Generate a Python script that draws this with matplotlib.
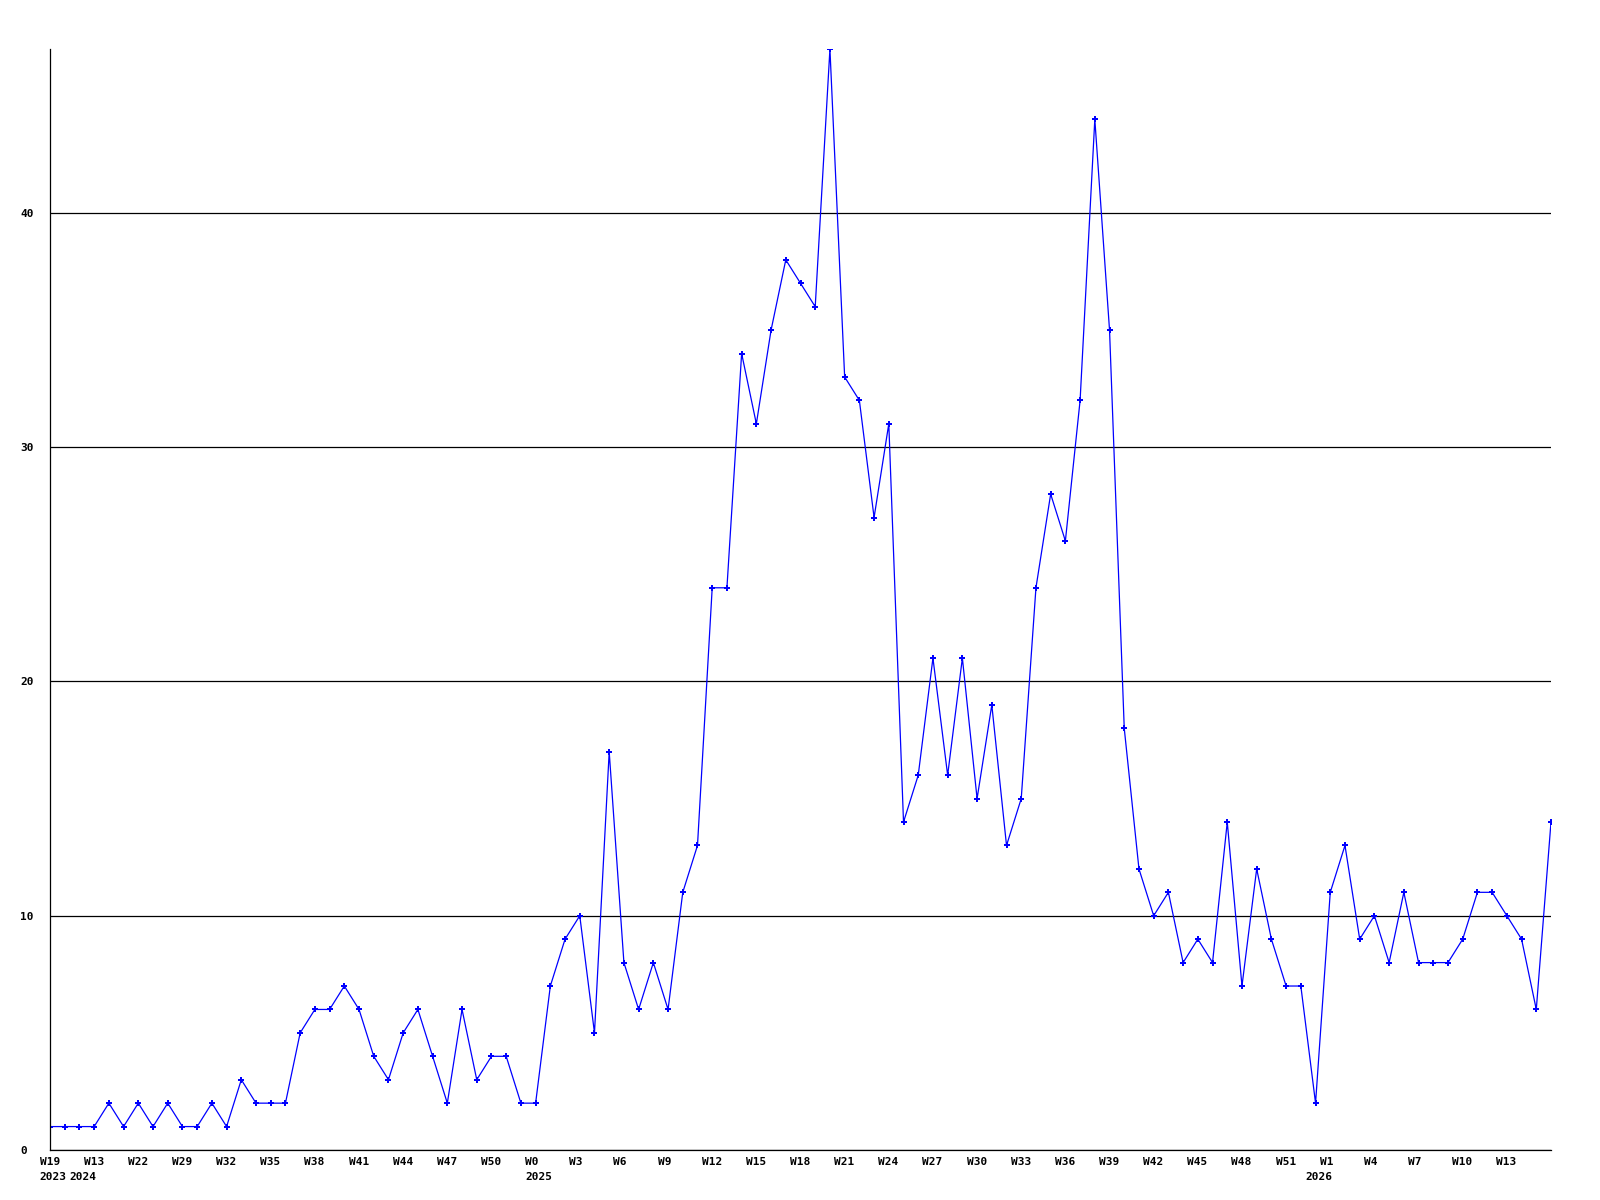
import matplotlib
matplotlib.use("Agg")
import matplotlib.pyplot as plt
from matplotlib.transforms import ScaledTranslation

# weekly values, one per point
values = [1, 1, 1, 1, 2, 1, 2, 1, 2, 1, 1, 2, 1, 3, 2, 2, 2, 5, 6, 6,
          7, 6, 4, 3, 5, 6, 4, 2, 6, 3, 4, 4, 2, 2, 7, 9, 10, 5, 17, 8,
          6, 8, 6, 11, 13, 24, 24, 34, 31, 35, 38, 37, 36, 47, 33, 32, 27, 31, 14, 16,
          21, 16, 21, 15, 19, 13, 15, 24, 28, 26, 32, 44, 35, 18, 12, 10, 11, 8, 9, 8,
          14, 7, 12, 9, 7, 7, 2, 11, 13, 9, 10, 8, 11, 8, 8, 8, 9, 11, 11, 10,
          9, 6, 14]

# week labels, every third point
week_labels = ["W19", "W13", "W22", "W29", "W32", "W35", "W38", "W41", "W44", "W47",
               "W50", "W0", "W3", "W6", "W9", "W12", "W15", "W18", "W21", "W24",
               "W27", "W30", "W33", "W36", "W39", "W42", "W45", "W48", "W51", "W1",
               "W4", "W7", "W10", "W13"]
week_pos = [3 * i for i in range(len(week_labels))]

# year labels and the point where each year starts
years = ["2023", "2024", "2025", "2026"]
year_pos = [0, 2, 33, 86]

y_ticks = [0, 10, 20, 30, 40]

mono = "DejaVu Sans Mono"

fig = plt.figure(figsize=(16, 12), dpi=100)
ax = fig.add_axes([50 / 1600, 1 - 1150 / 1200, 1501 / 1600, 1101 / 1200])

x = list(range(len(values)))
ax.plot(x, values, color="#0000ff", lw=0.9, marker="P", markersize=4,
        markeredgewidth=0, markerfacecolor="#0000ff")

ax.set_xlim(0, len(values) - 1)
ax.set_ylim(0, max(values))

ax.set_yticks(y_ticks)
ax.set_yticklabels([str(v) for v in y_ticks], fontfamily=mono, fontweight="bold",
                   fontsize=8, ha="left")
ax.tick_params(axis="y", length=0, pad=21.6)

ax.set_xticks(week_pos)
ax.tick_params(axis="x", length=0, pad=5)
ax.set_xticklabels(week_labels, fontfamily=mono, fontweight="bold", fontsize=8, ha="left")
# labels start a little left of their point
shift = ScaledTranslation(-10.5 / 100, 0, fig.dpi_scale_trans)
for lab in ax.get_xticklabels():
    lab.set_transform(lab.get_transform() + shift)

for yr, p in zip(years, year_pos):
    ax.annotate(yr, xy=(p, 0), xycoords=("data", "axes fraction"),
                xytext=(-10.5, -22), textcoords="offset pixels", ha="left", va="top",
                fontfamily=mono, fontweight="bold", fontsize=8)

ax.grid(axis="y", color="black", lw=0.9)
ax.set_axisbelow(True)
for s in ["top", "right"]:
    ax.spines[s].set_visible(False)
for s in ["left", "bottom"]:
    ax.spines[s].set_color("black")
    ax.spines[s].set_linewidth(0.9)

fig.savefig("out.png", dpi=100)
